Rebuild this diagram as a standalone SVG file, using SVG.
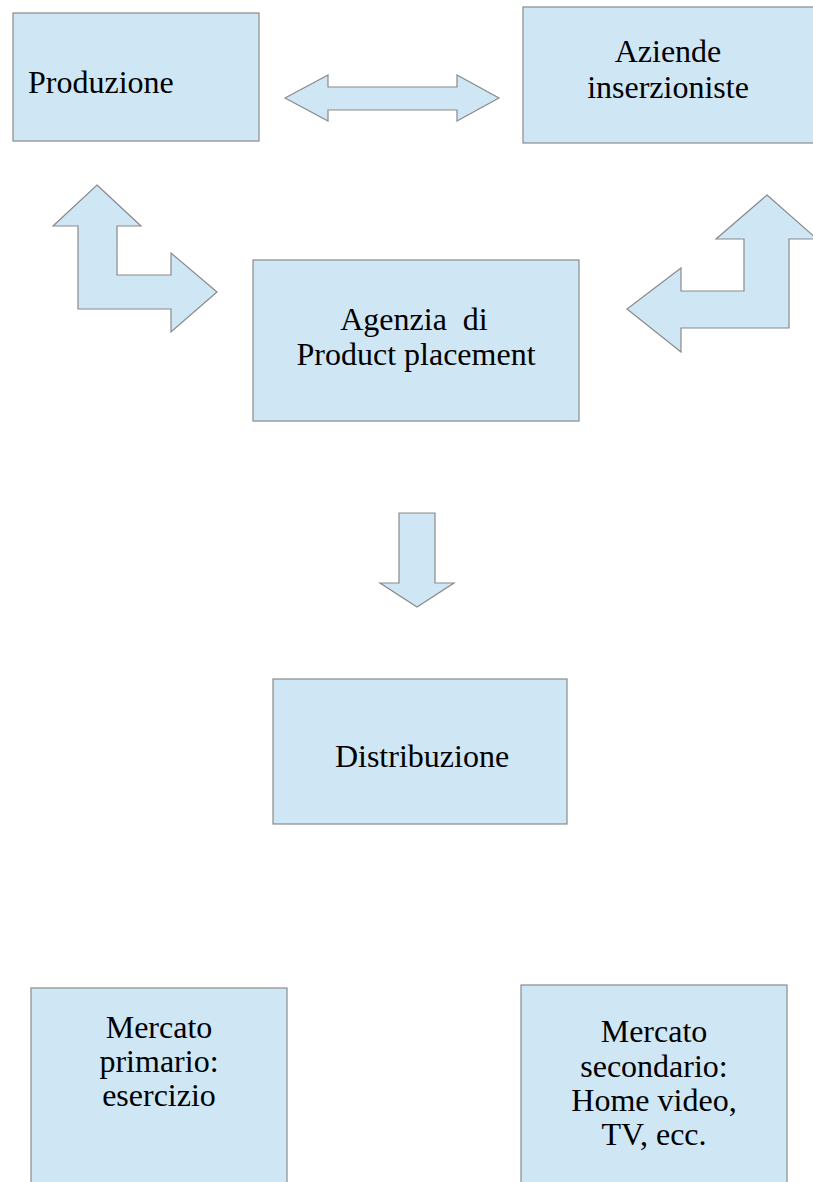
<svg xmlns="http://www.w3.org/2000/svg" width="813" height="1182" viewBox="0 0 813 1182">
<style>
.box{fill:#cfe6f4;stroke:#8a8a8a;stroke-width:1.2}
.arr{fill:#cfe6f4;stroke:#8a8a8a;stroke-width:1.2;stroke-linejoin:miter}
text{font-family:"Liberation Serif","Times New Roman",serif;font-size:32px;fill:#000}
.c{text-anchor:middle}
</style>
<rect width="813" height="1182" fill="#ffffff"/>
<g id="produzione">
<rect class="box" x="13" y="13" width="246" height="128"/>
<text x="28" y="93">Produzione</text>
</g>
<g id="aziende">
<rect class="box" x="523" y="7" width="292" height="136"/>
<text class="c" x="668" y="62">Aziende</text>
<text class="c" x="668" y="98">inserzioniste</text>
</g>
<g id="agenzia">
<rect class="box" x="253" y="260" width="326" height="161"/>
<text class="c" x="418" y="330" xml:space="preserve" style="white-space:pre">Agenzia  di </text>
<text class="c" x="416" y="365">Product placement</text>
</g>
<g id="distribuzione">
<rect class="box" x="273" y="679" width="294" height="145"/>
<text class="c" x="422" y="767">Distribuzione</text>
</g>
<g id="mercato-primario">
<rect class="box" x="31" y="988" width="256" height="200"/>
<text class="c" x="159" y="1038">Mercato</text>
<text class="c" x="159" y="1072">primario:</text>
<text class="c" x="159" y="1106">esercizio</text>
</g>
<g id="mercato-secondario">
<rect class="box" x="521" y="985" width="266" height="203"/>
<text class="c" x="654" y="1042">Mercato</text>
<text class="c" x="654" y="1077">secondario:</text>
<text class="c" x="654" y="1111">Home video,</text>
<text class="c" x="654" y="1145">TV, ecc.</text>
</g>
<g id="connectors">
<polygon class="arr" points="285,98 328,75 328,87 457,87 457,75 499,98 457,121 457,110 328,110 328,121"/>
<polygon class="arr" points="97,185 141,226 117,226 117,275 171,275 171,253 217,292 171,332 171,309 78,309 78,226 53,226"/>
<polygon class="arr" points="767,195 817,239 789,239 789,328 681,328 681,352 627,309 681,268 681,291 744,291 744,239 716,239"/>
<polygon class="arr" points="399,513 435,513 435,583 454,583 417,607 380,583 399,583"/>
</g>
</svg>
